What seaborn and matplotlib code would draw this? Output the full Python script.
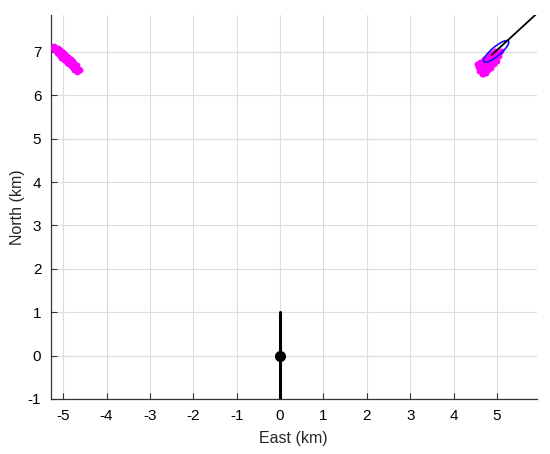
import numpy as np
import pandas as pd
import matplotlib
matplotlib.use("Agg")
import matplotlib.pyplot as plt
from matplotlib.patches import Ellipse
import seaborn as sns

# sensor track (vertical bar at origin) and its position marker
sensor_east = [0.0, 0.0]
sensor_north = [-1.0, 1.0]
sensor_pos_east = [0.0]
sensor_pos_north = [0.0]

# target track heading off to the north-east
track_east = [4.88, 6.00]
track_north = [6.93, 7.96]

# particle cloud, left (ghost) solution
left_east = [-5.24, -5.18, -5.12, -5.06, -5.00, -4.94, -4.88, -4.82, -4.76, -4.70, -4.64,
             -5.22, -5.16, -5.10, -5.04, -4.98, -4.92, -4.86, -4.80, -4.74, -4.68,
             -5.20, -5.14, -5.08, -5.02, -4.96, -4.90, -4.84, -4.78, -4.72, -4.66, -4.62,
             -5.13, -5.07, -5.01, -4.95, -4.89, -4.83, -4.77,
             -5.10, -5.04, -4.98, -4.92, -4.86, -4.80, -4.74, -4.69]
left_north = [7.12, 7.07, 7.02, 6.96, 6.91, 6.86, 6.81, 6.75, 6.70, 6.65, 6.60,
              7.13, 7.10, 7.06, 7.01, 6.96, 6.91, 6.86, 6.80, 6.74, 6.69,
              7.04, 6.98, 6.92, 6.86, 6.81, 6.75, 6.70, 6.64, 6.60, 6.56, 6.58,
              7.08, 7.04, 6.99, 6.94, 6.89, 6.84, 6.78,
              6.93, 6.87, 6.82, 6.76, 6.71, 6.66, 6.59, 6.54]

# particle cloud, right (true) solution
right_east = [4.62, 4.68, 4.74, 4.80, 4.86, 4.92, 4.98, 5.04, 5.10,
              4.56, 4.62, 4.68, 4.75, 4.82, 4.90, 4.97,
              4.66, 4.72, 4.79, 4.85, 4.91, 4.98, 5.05, 4.58, 4.64,
              4.55, 4.60, 4.70, 4.76, 4.83, 4.89, 4.95,
              4.68, 4.74, 4.80, 4.87, 4.93, 5.00]
right_north = [6.58, 6.63, 6.69, 6.74, 6.80, 6.85, 6.91, 6.96, 7.02,
               6.66, 6.72, 6.78, 6.83, 6.88, 6.93, 6.98,
               6.50, 6.55, 6.62, 6.69, 6.75, 6.82, 6.90, 6.55, 6.60,
               6.72, 6.76, 6.84, 6.88, 6.93, 6.97, 7.02,
               6.49, 6.52, 6.58, 6.64, 6.71, 6.78]

# covariance ellipse of the estimate
ell_center = (4.98, 7.01)
ell_width = 0.74
ell_height = 0.21
ell_angle = 40

x_ticks = list(range(-5, 6))
y_ticks = list(range(-1, 8))

sns.set_style("whitegrid")
plt.rcParams["font.family"] = ["Liberation Sans", "DejaVu Sans"]

fig = plt.figure(figsize=(5.5, 4.54), dpi=100)
ax = fig.add_axes([51 / 550, 55 / 454, 485.5 / 550, 384 / 454])

clouds = pd.concat([
    pd.DataFrame({"east": left_east, "north": left_north}),
    pd.DataFrame({"east": right_east, "north": right_north}),
])
sns.scatterplot(data=clouds, x="east", y="north", color="#ff00ff", s=18,
                marker="o", linewidth=0, ax=ax, zorder=3)

ax.add_patch(Ellipse(ell_center, ell_width, ell_height, angle=ell_angle,
                     fill=False, edgecolor="#1010ff", linewidth=1.2, zorder=4))

sns.lineplot(x=track_east, y=track_north, sort=False, estimator=None,
             color="black", linewidth=1.3, ax=ax, zorder=5)
sns.lineplot(x=sensor_east, y=sensor_north, sort=False, estimator=None,
             color="black", linewidth=2.2, ax=ax, zorder=5)
ax.plot(sensor_pos_east, sensor_pos_north, "o", color="black", markersize=7, zorder=6)

ax.set_xlim(-5.28, 5.91)
ax.set_ylim(-1, 7.85)
ax.set_xticks(x_ticks)
ax.set_yticks(y_ticks)
ax.set_xticklabels([str(t) for t in x_ticks])
ax.set_yticklabels([str(t) for t in y_ticks])
ax.grid(True, color="#dcdcdc", linewidth=0.8)
ax.set_axisbelow(True)
ax.tick_params(bottom=True, left=True, direction="in", length=4, width=0.8,
               colors="#333333", labelcolor="black", labelsize=11, pad=7)

for side in ["top", "right"]:
    ax.spines[side].set_visible(False)
for side in ["left", "bottom"]:
    ax.spines[side].set_color("#333333")
    ax.spines[side].set_linewidth(0.9)

ax.set_xlabel("East (km)", fontsize=11.5, labelpad=6)
ax.set_ylabel("North (km)", fontsize=11.5, labelpad=2)

fig.savefig("out.png", dpi=100)
